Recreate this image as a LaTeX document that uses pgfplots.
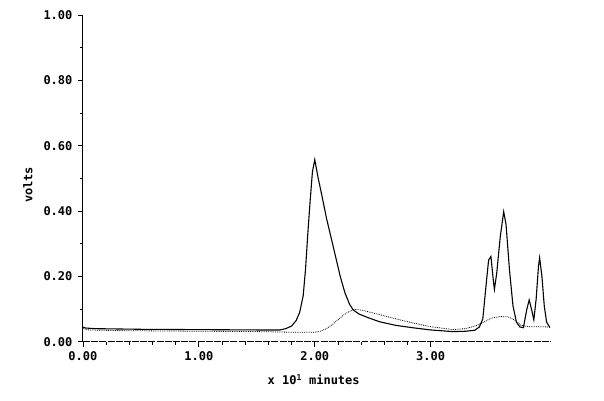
\documentclass[border=0pt]{standalone}
\usepackage{fontspec}
\setmainfont{DejaVu Sans Mono}
\usepackage{pgfplots}
\pgfplotsset{compat=1.18}
\begin{document}
\begin{tikzpicture}
\begin{axis}[
  name=ax,
  scale only axis,
  width=467.5pt, height=327pt,
  xmin=0, xmax=4.03, ymin=0, ymax=1,
  axis x line=bottom, axis y line=left,
  axis line style={-},
  y axis line style={line width=0.9pt},
  x axis line style={line width=0.6pt, dash pattern=on 7pt off 1.2pt},
  xtick={0,1,2,3}, ytick={0,0.2,0.4,0.6,0.8,1},
  minor x tick num=4, minor y tick num=1,
  tick align=outside,
  major tick length=5pt, minor tick length=3pt,
  tick style={black, line width=0.7pt},
  /pgf/number format/assume math mode=true,
  xticklabel style={/pgf/number format/fixed, /pgf/number format/fixed zerofill, /pgf/number format/precision=2, font=\fontsize{12}{14}\selectfont\bfseries, yshift=-1pt},
  yticklabel style={/pgf/number format/fixed, /pgf/number format/fixed zerofill, /pgf/number format/precision=2, font=\fontsize{12}{14}\selectfont\bfseries, xshift=-2pt},
  xlabel={x 10\textsuperscript{1} minutes},
  ylabel={volts},
  xlabel style={font=\fontsize{12}{14}\selectfont\bfseries, at={(axis description cs:0.494,-0.116)}, anchor=center},
  ylabel style={font=\fontsize{12}{14}\selectfont\bfseries, at={(axis description cs:-0.118,0.48)}, anchor=center, rotate=0},
]
% dotted trace
\addplot[black, densely dotted, line width=0.8pt] coordinates {
(0.00,0.040) (0.05,0.036) (0.30,0.034) (1.00,0.032) (1.50,0.031) (1.80,0.029)
(2.00,0.029) (2.05,0.032) (2.10,0.040) (2.15,0.052) (2.20,0.067) (2.25,0.082)
(2.30,0.093) (2.35,0.099) (2.40,0.097) (2.48,0.090) (2.56,0.083) (2.70,0.070)
(2.84,0.058) (3.00,0.046) (3.19,0.037) (3.30,0.040) (3.40,0.050) (3.47,0.062)
(3.52,0.072) (3.60,0.077) (3.67,0.076) (3.72,0.067) (3.78,0.050) (3.85,0.046)
(3.95,0.046) (4.03,0.045)
};
% solid trace
\addplot[black, line width=1.1pt] coordinates {
(0.00,0.045) (0.02,0.042) (0.10,0.040) (0.50,0.038) (1.00,0.037) (1.50,0.036)
(1.70,0.036) (1.75,0.040) (1.80,0.048) (1.84,0.065) (1.87,0.090) (1.90,0.140)
(1.92,0.220) (1.94,0.330) (1.96,0.430) (1.98,0.520) (2.00,0.557) (2.03,0.500)
(2.06,0.450) (2.10,0.380) (2.14,0.320) (2.18,0.260) (2.22,0.200) (2.26,0.150)
(2.30,0.115) (2.33,0.098) (2.38,0.085) (2.45,0.075) (2.56,0.061) (2.70,0.050)
(2.84,0.043) (3.00,0.036) (3.19,0.031) (3.30,0.032) (3.38,0.035) (3.42,0.045)
(3.45,0.070) (3.48,0.180) (3.50,0.250) (3.52,0.261) (3.54,0.190) (3.55,0.160)
(3.57,0.210) (3.60,0.320) (3.63,0.398) (3.65,0.360) (3.68,0.220) (3.71,0.110)
(3.74,0.060) (3.77,0.045) (3.80,0.043) (3.83,0.100) (3.85,0.128) (3.87,0.100)
(3.89,0.067) (3.91,0.130) (3.93,0.230) (3.94,0.257) (3.96,0.200) (3.98,0.110)
(4.00,0.060) (4.03,0.043)
};
\end{axis}
\path ([shift={(-83pt,-59pt)}]ax.south west) rectangle ([shift={(54pt,15pt)}]ax.north east);
\end{tikzpicture}
\end{document}
